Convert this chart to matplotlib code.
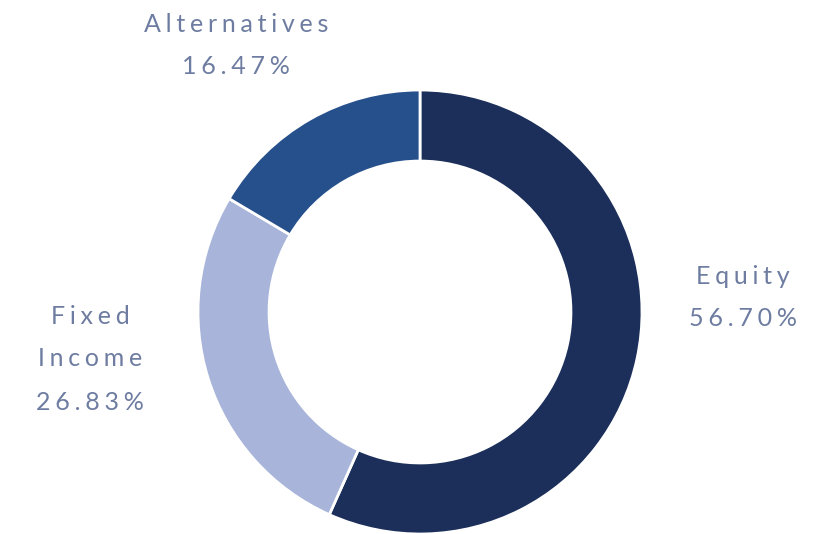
import matplotlib
matplotlib.use("Agg")
import matplotlib.pyplot as plt

# ---------- data ----------
categories = ["Equity", "Fixed Income", "Alternatives"]
shares = [56.70, 26.83, 16.47]
colors = ["#1b2f5a", "#a8b4d9", "#26508c"]

W, H = 832, 534
CX, CY, R = 420, 312, 222  # donut center / radius in pixels (from top-left)

fig = plt.figure(figsize=(W / 100, H / 100), dpi=100)
ax = fig.add_axes([0, 0, 1, 1])
ax.axis("off")

ax.pie(shares, colors=colors, startangle=90, counterclock=False, radius=1,
       wedgeprops=dict(width=0.32, edgecolor="white", linewidth=2))
ax.set_xlim(-CX / R, (W - CX) / R)
ax.set_ylim(-(H - CY) / R, CY / R)
ax.set_aspect("auto")


def spaced(s):
    return "\u2009\u200a".join(s)


## label lines: (text, x px, y px)
txt_color = "#6d7ca0"
label_lines = {
    "Equity": [("Equity", 743, 277), (f"{shares[0]:.2f}%", 743, 318)],
    "Fixed Income": [("Fixed", 90, 317), ("Income", 90, 359), (f"{shares[1]:.2f}%", 90, 403)],
    "Alternatives": [("Alternatives", 236, 24), (f"{shares[2]:.2f}%", 236, 67)],
}
for cat in categories:
    for text, x, y in label_lines[cat]:
        fig.text(x / W, 1 - y / H, spaced(text), ha="center", va="center",
                 fontsize=18, color=txt_color, fontweight="normal",
                 family=["Lato", "DejaVu Sans"])

fig.savefig("out.png", dpi=100)
